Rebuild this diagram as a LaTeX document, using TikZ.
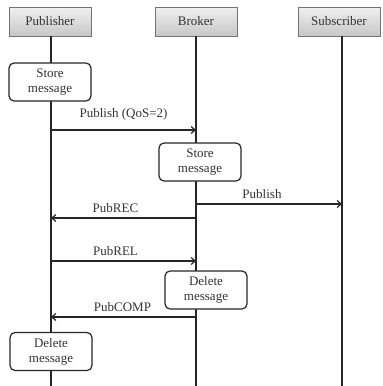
\documentclass[tikz,border=0pt]{standalone}
\usepackage{fontspec}
\setmainfont{Liberation Serif}
\usetikzlibrary{arrows.meta}
\begin{document}
\begin{tikzpicture}[x=1pt,y=-1pt,
  every node/.style={font=\fontsize{13}{14}\selectfont, text=black!80, inner sep=0pt},
  header/.style={draw=black!55, line width=0.6pt, top color=black!6, bottom color=black!22, minimum width=82pt, minimum height=29pt},
  act/.style={draw=black!85, line width=1.2pt, rounded corners=5pt, fill=white, minimum width=82pt, minimum height=38pt, align=center, font=\fontsize{13}{15}\selectfont},
  life/.style={line width=1.6pt, black!85},
  msg/.style={line width=1.2pt, black!85, -{Straight Barb[length=4pt,width=7pt]}},
  lbl/.style={above=5pt}
]
\useasboundingbox (0,0) rectangle (383,386);
\node[header] (P) at (50,21.5) {Publisher};
\node[header] (B) at (196,21.5) {Broker};
\node[header] (S) at (339,21.5) {Subscriber};
\coordinate (Pend) at (51,386);
\coordinate (Bend) at (196,386);
\coordinate (Send) at (342,386);
\coordinate (Ptop) at (51,36);
\coordinate (Btop) at (196,36);
\coordinate (Stop) at (342,36);
\draw[life] (Ptop) -- (Pend);
\draw[life] (Btop) -- (Bend);
\draw[life] (Stop) -- (Send);

\node[act] (ps) at (50,82) {Store\\message};
\node[act] (bs) at (200,162) {Store\\message};
\node[act] (bd) at (206,290) {Delete\\message};
\node[act] (pd) at (51,351.5) {Delete\\message};

\coordinate (a1s) at (51,130); \coordinate (a1e) at (196,130);
\draw[msg] (a1s) -- node[lbl, above=4pt] {Publish (QoS=2)} (a1e);
\coordinate (a2s) at (196,204); \coordinate (a2e) at (342,204);
\draw[msg] (a2s) -- node[lbl, xshift=-7pt] {Publish} (a2e);
\coordinate (a3s) at (196,218); \coordinate (a3e) at (51,218);
\draw[msg] (a3s) -- node[lbl, xshift=-8pt] {PubREC} (a3e);
\coordinate (a4s) at (51,261); \coordinate (a4e) at (196,261);
\draw[msg] (a4s) -- node[lbl, xshift=-8pt] {PubREL} (a4e);
\coordinate (a5s) at (196,317); \coordinate (a5e) at (51,317);
\draw[msg] (a5s) -- node[lbl, xshift=-1pt] {PubCOMP} (a5e);
\end{tikzpicture}
\end{document}
